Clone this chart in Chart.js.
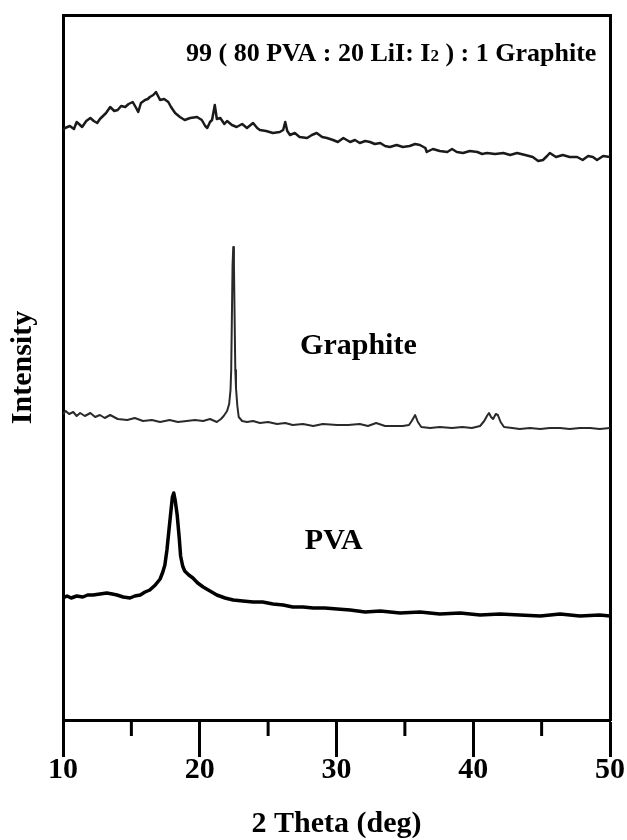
<!DOCTYPE html>
<html>
<head>
<meta charset="utf-8">
<script src="https://cdn.jsdelivr.net/npm/chart.js@4.4.0/dist/chart.umd.min.js"></script>
<style>
html, body { margin: 0; padding: 0; background: #fff; }
canvas { display: block; }
</style>
</head>
<body>
<canvas id="xrd" width="627" height="840"></canvas>
<script>
// 2 theta (deg) and intensity (a.u.)
var compTheta = [10.0,10.15,10.5,10.8,11.0,11.25,11.4,11.7,12.0,12.25,
  12.5,12.7,12.85,13.15,13.45,13.75,14.0,14.25,14.55,14.8,
  15.1,15.35,15.5,15.7,16.0,16.2,16.35,16.6,16.8,16.95,
  17.1,17.4,17.7,17.9,18.2,18.55,18.9,19.3,19.8,20.15,
  20.4,20.55,20.75,20.9,21.1,21.25,21.5,21.8,22.0,22.35,
  22.7,23.1,23.45,23.9,24.2,24.4,24.85,25.35,25.85,26.1,
  26.25,26.4,26.6,26.95,27.3,27.85,28.2,28.55,28.95,29.3,
  29.75,30.1,30.5,31.0,31.35,31.7,32.1,32.45,32.8,33.2,
  33.55,33.9,34.4,34.85,35.35,35.75,36.1,36.5,36.6,37.05,
  37.55,38.1,38.45,38.8,39.25,39.75,40.3,40.65,41.0,41.6,
  42.2,42.7,43.2,43.8,44.35,44.75,45.1,45.4,45.6,46.05,
  46.55,47.05,47.6,48.0,48.4,48.75,49.05,49.5,50.0];
var compInt = [590,592,594,591,598,595,593,599,602,599,
  597,601,603,607,613,609,610,614,613,616,
  618,612,608,617,620,621,623,625,628,624,
  620,621,618,613,607,603,600,602,603,600,
  594,592,598,600,615,601,602,596,599,595,
  593,596,592,597,592,590,589,587,588,590,
  598,589,585,587,583,582,585,587,583,582,
  580,578,582,578,580,577,579,578,576,577,
  574,573,575,573,574,576,575,572,568,571,
  569,568,571,568,567,569,568,566,567,566,
  567,565,567,565,563,559,560,564,567,563,
  565,563,563,560,564,563,560,564,563];

var graphiteTheta = [10.0,10.2,10.45,10.75,11.0,11.25,11.6,12.0,12.35,12.7,
  13.05,13.45,14.0,14.7,15.25,15.85,16.5,17.1,17.8,18.4,
  19.05,19.65,20.25,20.75,21.25,21.55,21.75,22.0,22.15,22.25,
  22.3,22.4,22.45,22.5,22.6,22.65,22.75,22.85,23.1,23.45,
  23.9,24.4,25.0,25.65,26.25,26.8,27.55,28.3,29.0,30.05,
  30.85,31.7,32.3,32.9,33.55,34.3,34.85,35.3,35.5,35.75,
  35.95,36.2,36.85,37.55,38.45,39.2,39.9,40.5,40.8,41.0,
  41.15,41.3,41.45,41.65,41.8,42.0,42.25,42.85,43.4,44.15,
  44.9,45.6,46.35,47.05,47.8,48.55,49.25,50.0];
var graphiteInt = [306,309,306,308,304,307,304,307,303,305,
  302,305,301,300,302,299,300,298,300,298,
  299,300,299,301,298,301,304,309,316,330,
  350,455,473,455,350,332,314,303,299,298,
  299,297,298,296,297,295,296,294,296,295,
  295,296,294,297,294,294,294,295,299,305,
  298,293,292,293,292,293,292,294,299,304,
  307,303,301,306,305,298,293,292,291,292,
  291,292,292,291,292,292,291,292];

var pvaTheta = [10.0,10.3,10.6,11.0,11.45,11.8,12.2,12.7,13.2,13.6,
  13.95,14.4,14.9,15.25,15.65,16.0,16.35,16.75,17.1,17.3,
  17.45,17.6,17.75,17.9,18.0,18.1,18.2,18.35,18.5,18.6,
  18.75,18.9,19.2,19.5,19.85,20.25,20.75,21.25,21.85,22.45,
  23.15,23.9,24.6,25.35,26.1,26.8,27.55,28.3,29.15,30.05,
  31.0,32.1,33.2,34.65,36.1,37.55,39.05,40.5,41.95,43.4,
  44.9,46.35,47.8,49.25,50.0];
var pvaInt = [122,124,122,124,123,125,125,126,127,126,
  125,123,122,124,125,128,130,135,141,148,
  155,170,190,210,223,227,220,205,182,164,
  154,149,145,142,137,133,129,125,122,120,
  119,118,118,116,115,113,113,112,112,111,
  110,108,109,107,108,106,107,105,106,105,
  104,106,104,105,104];

var xMinorTicks = [15, 25, 35, 45];

var serif = '"Liberation Serif", "Times New Roman", serif';

function pts(xs, ys) {
  return xs.map(function (x, i) { return { x: x, y: ys[i] }; });
}

var annotate = {
  id: 'annotate',
  afterDraw: function (chart) {
    var ctx = chart.ctx;
    var xs = chart.scales.x, ys = chart.scales.y;
    var y0 = chart.chartArea.bottom;

    // minor ticks
    ctx.save();
    ctx.strokeStyle = '#000';
    ctx.lineWidth = 3;
    xMinorTicks.forEach(function (v) {
      var px = xs.getPixelForValue(v);
      ctx.beginPath();
      ctx.moveTo(px, y0);
      ctx.lineTo(px, y0 + 16);
      ctx.stroke();
    });

    ctx.fillStyle = '#000';
    ctx.textAlign = 'center';
    ctx.textBaseline = 'middle';
    ctx.font = 'bold 30px ' + serif;
    ctx.fillText('Graphite', xs.getPixelForValue(31.6), ys.getPixelForValue(374));
    ctx.fillText('PVA', xs.getPixelForValue(29.8), ys.getPixelForValue(179));

    // composite label with the small 2 of I2
    var big = 'bold 26px ' + serif, small = 'bold 17px ' + serif;
    var parts = [['99 ( 80 PVA : 20 LiI: I', big], ['2', small], [' ) : 1 Graphite', big]];
    var w = 0;
    parts.forEach(function (p) { ctx.font = p[1]; w += ctx.measureText(p[0]).width; });
    var x = xs.getPixelForValue(34.0) - w / 2;
    var by = ys.getPixelForValue(659);
    ctx.textAlign = 'left';
    ctx.textBaseline = 'alphabetic';
    parts.forEach(function (p) {
      ctx.font = p[1];
      ctx.fillText(p[0], x, by);
      x += ctx.measureText(p[0]).width;
    });
    ctx.restore();
  }
};

new Chart(document.getElementById('xrd'), {
  type: 'line',
  data: {
    datasets: [
      { label: '99 (80 PVA : 20 LiI: I2) : 1 Graphite', data: pts(compTheta, compInt),
        borderColor: '#1a1a1a', borderWidth: 2.5 },
      { label: 'Graphite', data: pts(graphiteTheta, graphiteInt),
        borderColor: '#2a2a2a', borderWidth: 2 },
      { label: 'PVA', data: pts(pvaTheta, pvaInt),
        borderColor: '#000', borderWidth: 3.5 }
    ]
  },
  options: {
    responsive: false,
    animation: false,
    devicePixelRatio: 1,
    layout: { padding: 0 },
    elements: { point: { radius: 0 }, line: { tension: 0, borderJoinStyle: 'round' } },
    plugins: { legend: { display: false }, tooltip: { enabled: false } },
    scales: {
      x: {
        type: 'linear', position: 'bottom', min: 10, max: 50,
        afterFit: function (s) { s.height = 120; },
        ticks: { stepSize: 10, padding: -2, color: '#000',
          font: { family: serif, size: 30, weight: 'bold', lineHeight: 1 } },
        grid: { drawOnChartArea: false, tickLength: 37, tickWidth: 3, tickColor: '#000' },
        border: { display: true, width: 3, color: '#000' },
        title: { display: true, text: '2 Theta (deg)', color: '#000',
          font: { family: serif, size: 30, weight: 'bold', lineHeight: 1 },
          padding: { top: 0, bottom: 1 } }
      },
      y: {
        type: 'linear', position: 'left', min: 0, max: 705,
        afterFit: function (s) { s.width = 63; },
        ticks: { display: false },
        grid: { display: false },
        border: { display: true, width: 3, color: '#000' },
        title: { display: true, text: 'Intensity', color: '#000',
          font: { family: serif, size: 30, weight: 'bold', lineHeight: 1 },
          padding: { top: 8, bottom: 0 } }
      },
      xTop: {
        type: 'linear', position: 'top', min: 10, max: 50,
        afterFit: function (s) { s.height = 15; },
        ticks: { display: false },
        grid: { display: false },
        border: { display: true, width: 3, color: '#000' }
      },
      yRight: {
        type: 'linear', position: 'right', min: 0, max: 705,
        afterFit: function (s) { s.width = 17; },
        ticks: { display: false },
        grid: { display: false },
        border: { display: true, width: 3, color: '#000' }
      }
    }
  },
  plugins: [annotate]
});
</script>
</body>
</html>
